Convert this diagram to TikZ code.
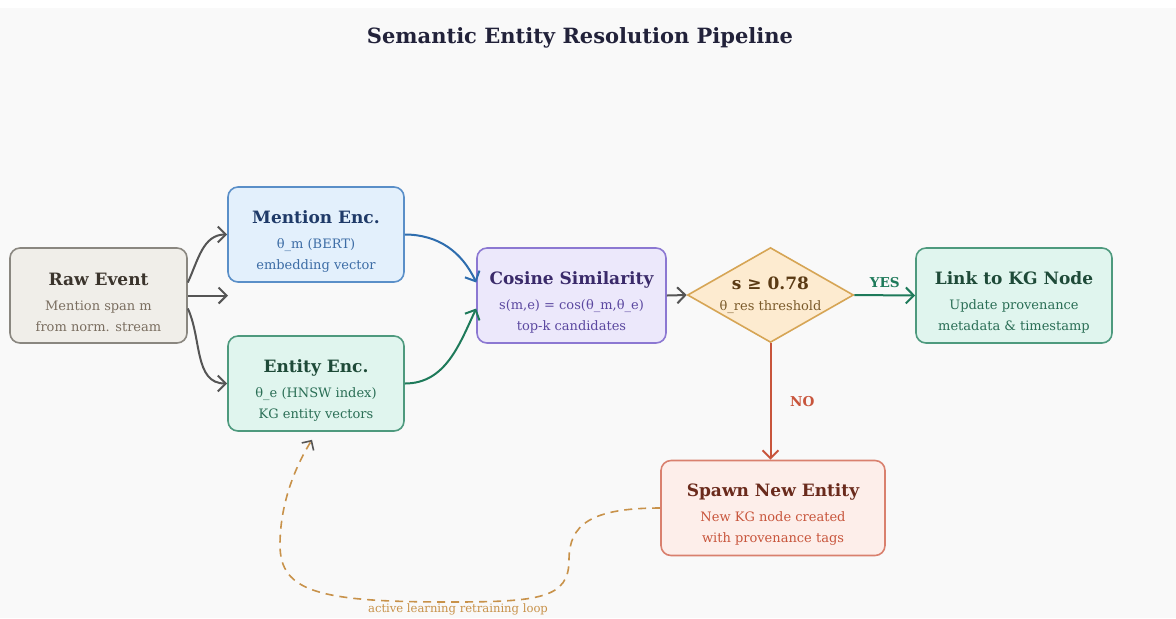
\documentclass[tikz,border=0pt]{standalone}
\usepackage{fontspec}
\setmainfont{DejaVu Serif}
\usetikzlibrary{arrows.meta,shapes.geometric}

\definecolor{bgcol}{HTML}{F9F9F9}
\definecolor{rawfill}{HTML}{F0EEE9}\definecolor{rawdraw}{HTML}{8A8780}
\definecolor{rawhead}{HTML}{3B342C}\definecolor{rawsub}{HTML}{7A6E60}
\definecolor{menfill}{HTML}{E3F0FC}\definecolor{mendraw}{HTML}{5A8FC8}
\definecolor{menhead}{HTML}{1F3A68}\definecolor{mensub}{HTML}{3C6CA5}
\definecolor{entfill}{HTML}{E0F5EE}\definecolor{entdraw}{HTML}{4E9A7E}
\definecolor{enthead}{HTML}{1E4A38}\definecolor{entsub}{HTML}{2A6E55}
\definecolor{cosfill}{HTML}{ECE8FB}\definecolor{cosdraw}{HTML}{8C78D2}
\definecolor{coshead}{HTML}{3A2A6A}\definecolor{cossub}{HTML}{5B48A0}
\definecolor{dcsfill}{HTML}{FDEBD0}\definecolor{dcsdraw}{HTML}{D6A555}
\definecolor{dcshead}{HTML}{5A3A14}\definecolor{dcssub}{HTML}{7A5A2A}
\definecolor{spwfill}{HTML}{FDEEEA}\definecolor{spwdraw}{HTML}{D9806E}
\definecolor{spwhead}{HTML}{6A2A1C}\definecolor{spwsub}{HTML}{C8553C}
\definecolor{graycol}{HTML}{555555}\definecolor{bluecol}{HTML}{2E6DAE}
\definecolor{greencol}{HTML}{1E7A5A}\definecolor{redcol}{HTML}{C8553C}
\definecolor{loopcol}{HTML}{C8924A}\definecolor{titlecol}{HTML}{22223A}

\newcommand{\boxhead}[2]{\rule{0pt}{13pt}\textcolor{#1}{\bfseries\fontsize{8.5}{10.5}\selectfont #2}}

\begin{document}
\begin{tikzpicture}[x=0.5pt,y=-0.5pt]
\tikzstyle{block} = [rectangle, draw, line width=0.8pt, rounded corners=5pt,
minimum height=47.5pt, align=center, inner sep=2pt,
font=\fontsize{6.5}{10.5}\selectfont]
\tikzstyle{decision} = [diamond, draw=dcsdraw, line width=0.8pt, fill=dcsfill,
aspect=1.75, minimum width=82.5pt, minimum height=47pt, align=center, inner sep=0pt,
text=dcssub, font=\fontsize{6.5}{10.5}\selectfont]
\tikzstyle{line} = [draw=graycol, line width=1pt, -{Straight Barb[length=4pt,width=8pt]}]
\tikzstyle{tag} = [font=\bfseries\fontsize{6.8}{8}\selectfont]
\tikzstyle{loop} = [draw=loopcol, line width=0.8pt, dash pattern=on 4pt off 3pt,
-{Straight Barb[length=3.5pt,width=7pt,color=graycol]}]

% canvas
\fill[white] (0,0) rectangle (1176,618);
\fill[bgcol] (0,8) rectangle (1176,618);
\useasboundingbox (0,0) rectangle (1176,618);

\node[text=titlecol, font=\bfseries\fontsize{10.5}{12}\selectfont] (title) at (580,38)
{Semantic Entity Resolution Pipeline};

% row of boxes
\node [block, draw=rawdraw, fill=rawfill, text=rawsub, minimum width=88.5pt] (raw) at (98.5,295.5)
{\boxhead{rawhead}{Raw Event}\\[2pt] Mention span m\\ from norm. stream};
\node [block, draw=mendraw, fill=menfill, text=mensub, minimum width=88pt] (mention) at (316,234.5)
{\boxhead{menhead}{Mention Enc.}\\[2pt] θ\_m (BERT)\\ embedding vector};
\node [block, draw=entdraw, fill=entfill, text=entsub, minimum width=88pt] (entity) at (316,383.5)
{\boxhead{enthead}{Entity Enc.}\\[2pt] θ\_e (HNSW index)\\ KG entity vectors};
\node [block, draw=cosdraw, fill=cosfill, text=cossub, minimum width=94.5pt] (cosine) at (571.5,295.5)
{\boxhead{coshead}{Cosine Similarity}\\[2pt] s(m,e) = cos(θ\_m,θ\_e)\\ top-k candidates};
\node [decision] (threshold) at (770.5,295)
{\textcolor{dcshead}{\bfseries\fontsize{8.5}{10.5}\selectfont s ≥ 0.78}\\[0pt] θ\_res threshold};
\node [block, draw=entdraw, fill=entfill, text=entsub, minimum width=98pt] (link) at (1014,295.5)
{\boxhead{enthead}{Link to KG Node}\\[2pt] Update provenance\\ metadata \& timestamp};
\node [block, draw=spwdraw, fill=spwfill, text=spwsub, minimum width=112pt] (spawn) at (773,508)
{\boxhead{spwhead}{Spawn New Entity}\\[2pt] New KG node created\\ with provenance tags};

\coordinate (gap) at (228,295.5);

% connectors
\path[line] ([yshift=6.5pt]raw.east) to[out=65,in=180] (mention.west);
\path[line] (raw.east) -- (gap);
\path[line] ([yshift=-6.5pt]raw.east) to[out=-65,in=180] (entity.west);
\path[line, draw=bluecol] (mention.east) to[out=0,in=115] ([yshift=6.5pt]cosine.west);
\path[line, draw=greencol] (entity.east) to[out=0,in=-115] ([yshift=-6.5pt]cosine.west);
\path[line] (cosine.east) -- (threshold.west);
\path[line, draw=greencol] (threshold.east) -- node[above, tag, text=greencol] (yes) {YES} (link.west);
\path[line, draw=redcol] (threshold.south) -- node[right=6pt, tag, text=redcol] (no) {NO}
(threshold.south |- spawn.north);

% retraining loop
\path[loop] (spawn.west) .. controls (590,508) and (569,525) .. (569,560)
.. controls (569,598) and (540,602) .. (450,602)
.. controls (320,602) and (280,592) .. (280,545)
.. controls (280,500) and (298,462) .. ([xshift=-2pt,yshift=-4pt]entity.south);
\node[text=loopcol, font=\fontsize{5.8}{7}\selectfont] (looplabel) at (458,609)
{active learning retraining loop};
\end{tikzpicture}
\end{document}
